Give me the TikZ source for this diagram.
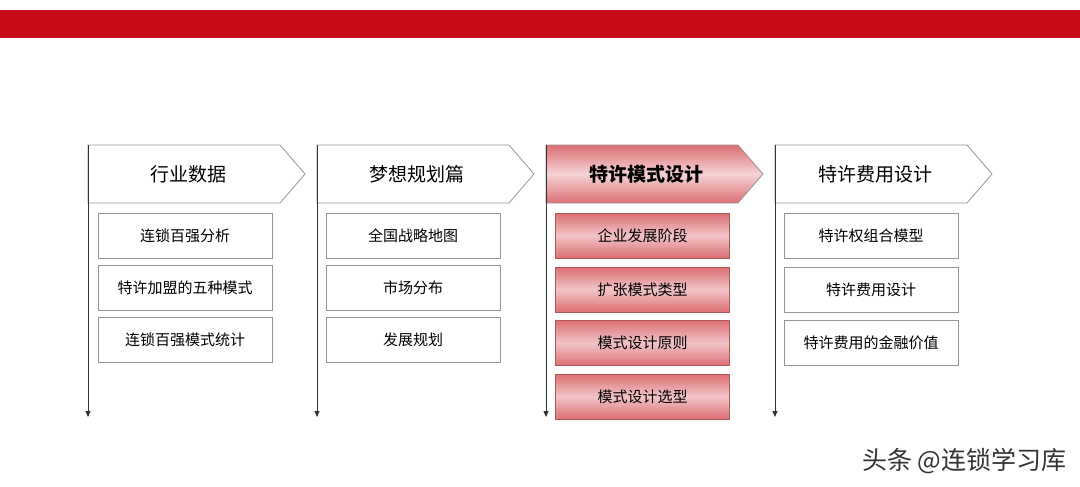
\documentclass[tikz,border=0pt]{standalone}
\usepackage{fontspec}
\setmainfont{Noto Sans CJK SC}
\usetikzlibrary{arrows.meta}
\definecolor{barred}{RGB}{200,10,25}
\definecolor{pk}{RGB}{220,110,115}
\definecolor{gr}{RGB}{150,150,150}
\tikzset{
 hdr/.style={draw=gr,line width=0.8pt,fill=white},
 hdrhi/.style={draw=gr,line width=0.8pt,top color=pk,bottom color=pk,middle color=white!70!pk},
 itm/.style={draw=gr,line width=0.8pt,fill=white,minimum width=174pt,minimum height=45pt,font=\fontsize{15}{18}\selectfont,inner sep=0pt},
 itmhi/.style={itm,draw=pk!80!black,top color=pk,bottom color=pk,middle color=white!60!pk},
 axis/.style={draw=black!80,line width=0.8pt,-{Triangle[length=6pt,width=5pt]}},
 htxt/.style={font=\fontsize{19}{22}\selectfont}
}
\begin{document}
\begin{tikzpicture}[x=1pt,y=-1pt]
\useasboundingbox (0,0) rectangle (1080,487);
\fill[barred] (0,10) rectangle (1080,38);
\foreach \i/\x/\t/\st in {1/88/行业数据/hdr,2/317/梦想规划篇/hdr,3/546/特许模式设计/hdrhi,4/775/特许费用设计/hdr}{
  \path[\st] (\x,145) -- (\x+192,145) -- (\x+217,174) -- (\x+192,203) -- (\x,203) -- cycle;
  \node[htxt] (h\i) at (\x+100,174) {\ifnum\i=3 \textbf{\t}\else\t\fi};
  \coordinate (top\i) at (\x,145);
  \coordinate (bot\i) at (\x,417);
  \draw[axis] (top\i) -- (bot\i);
}
\foreach \n/\x/\y/\t in {a1/185/235.5/连锁百强分析,a2/185/287.5/特许加盟的五种模式,a3/185/339.5/连锁百强模式统计,
 b1/413/235.5/全国战略地图,b2/413/287.5/市场分布,b3/413/339.5/发展规划,
 d1/871/235.5/特许权组合模型,d2/871/289.5/特许费用设计,d3/871/343/特许费用的金融价值}{
 \node[itm] (\n) at (\x,\y) {\t};
}
\foreach \n/\y/\t in {c1/235.5/企业发展阶段,c2/289.5/扩张模式类型,c3/343/模式设计原则,c4/396.5/模式设计选型}{
 \node[itmhi] (\n) at (642.5,\y) {\t};
}
\node[font=\fontsize{25}{28}\selectfont,text=black!80,anchor=east] (wm) at (1070,461) {头条 @连锁学习库};
\end{tikzpicture}
\end{document}
